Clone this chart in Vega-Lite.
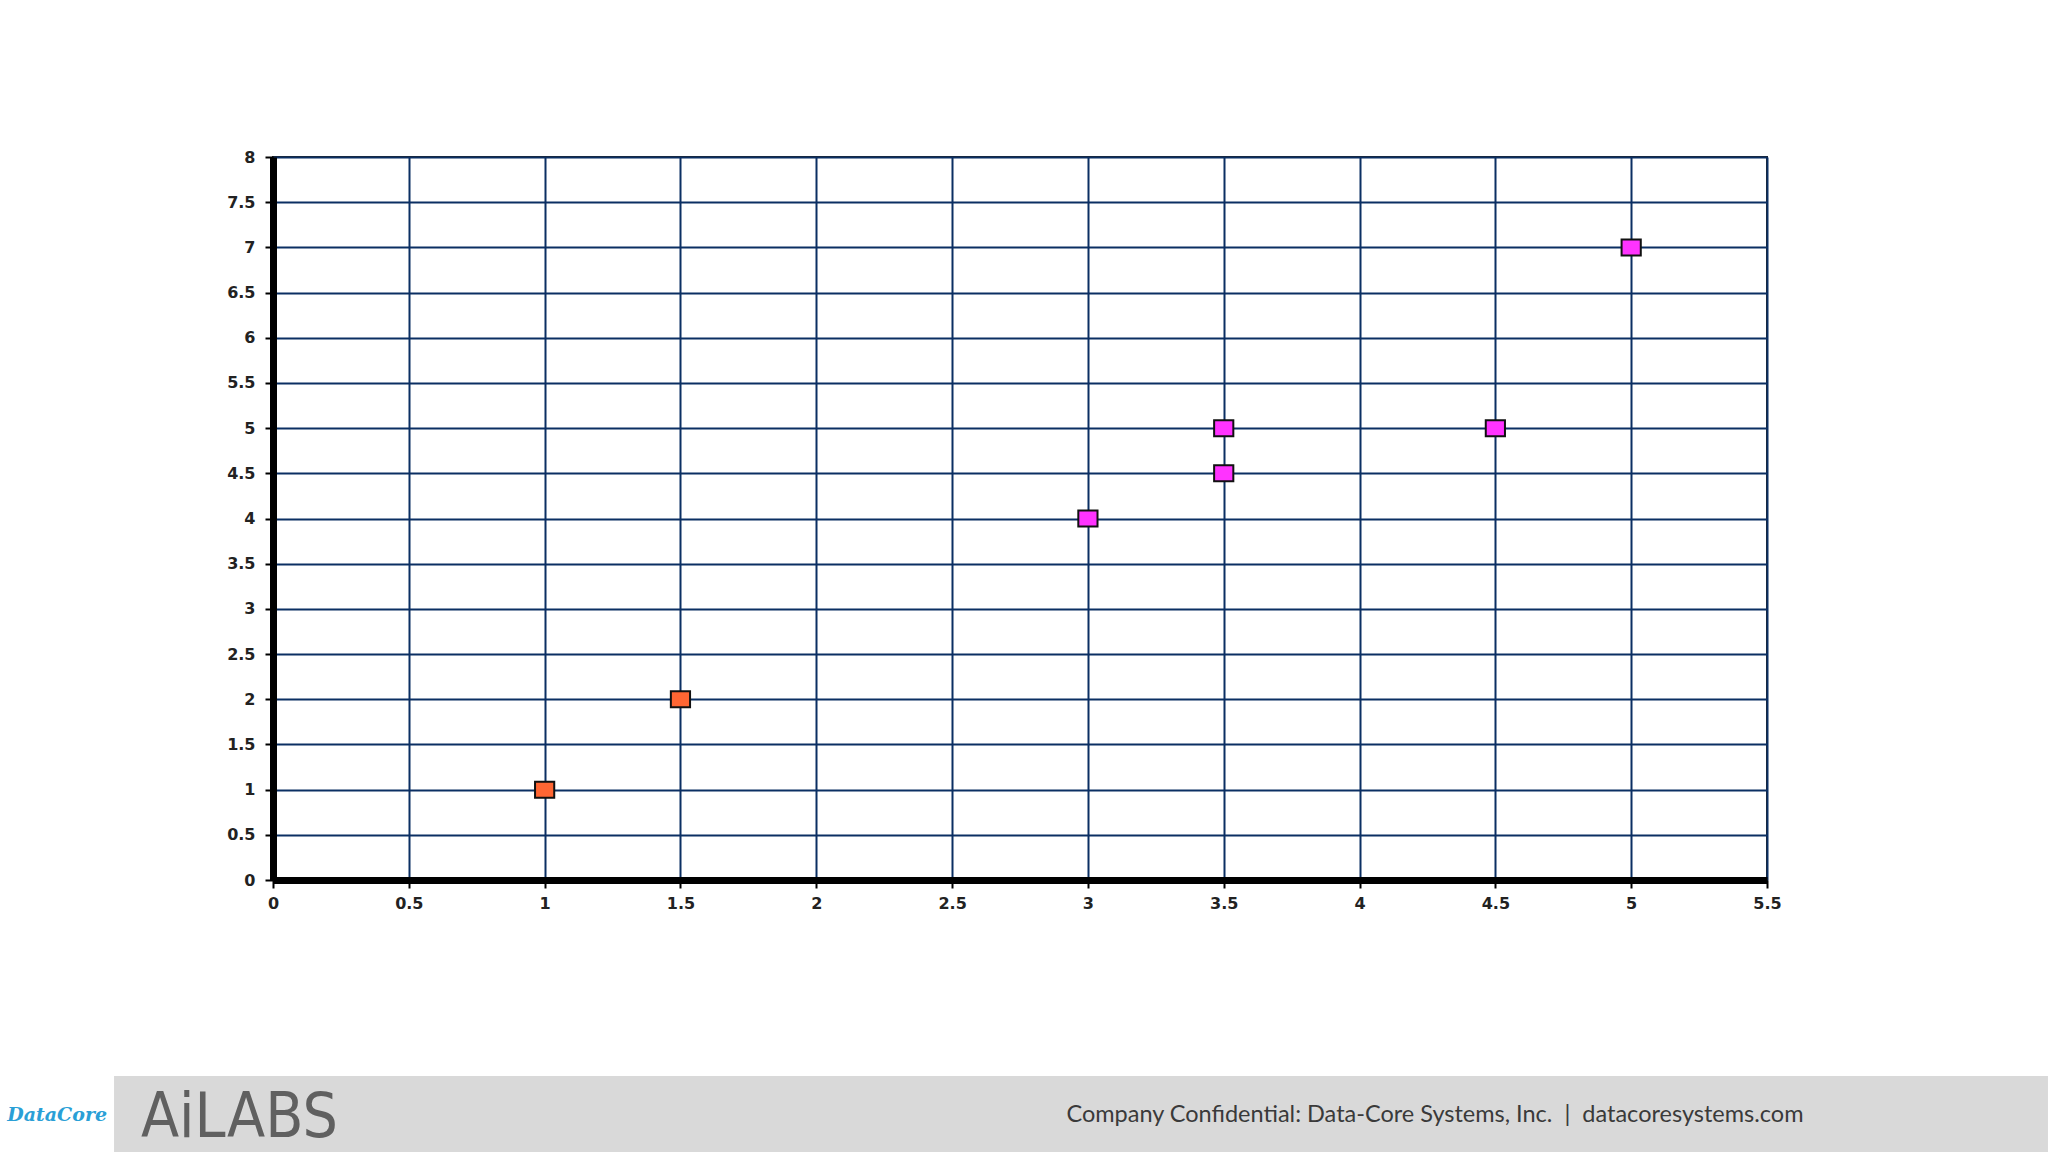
{
  "$schema": "https://vega.github.io/schema/vega-lite/v6.json",
  "background": "white",
  "padding": {"top": 148, "left": 0, "right": 0, "bottom": 0},
  "bounds": "flush",
  "center": true,
  "spacing": 196,
  "config": {"view": {"stroke": null}},
  "vconcat": [
    {
      "width": 1494,
      "height": 723,
      "view": {"stroke": "#222222", "strokeWidth": 2},
      "data": {
        "values": [
          {"x": 1, "y": 1, "series": "A"},
          {"x": 1.5, "y": 2, "series": "A"},
          {"x": 3, "y": 4, "series": "B"},
          {"x": 3.5, "y": 4.5, "series": "B"},
          {"x": 3.5, "y": 5, "series": "B"},
          {"x": 4.5, "y": 5, "series": "B"},
          {"x": 5, "y": 7, "series": "B"}
        ]
      },
      "mark": {
        "type": "point",
        "shape": "M-1.2,-1H1.2V1H-1.2Z",
        "filled": true,
        "stroke": "#111111",
        "strokeWidth": 2,
        "size": 256,
        "opacity": 1
      },
      "encoding": {
        "x": {
          "field": "x",
          "type": "quantitative",
          "scale": {"domain": [0, 5.5], "nice": false, "zero": false},
          "axis": {
            "values": [0, 0.5, 1, 1.5, 2, 2.5, 3, 3.5, 4, 4.5, 5, 5.5],
            "format": "~g",
            "title": null,
            "grid": true,
            "gridColor": "#0b2f63",
            "gridWidth": 2,
            "gridOpacity": 1,
            "domainColor": "#000000",
            "domainWidth": 7,
            "tickColor": "#000000",
            "tickWidth": 2,
            "tickSize": 8,
            "labelFont": "DejaVu Sans",
            "labelFontSize": 16,
            "labelFontWeight": "bold",
            "labelColor": "#222222",
            "labelPadding": 7,
            "labelFlush": false,
            "labelOverlap": false
          }
        },
        "y": {
          "field": "y",
          "type": "quantitative",
          "scale": {"domain": [0, 8], "nice": false, "zero": false},
          "axis": {
            "values": [0, 0.5, 1, 1.5, 2, 2.5, 3, 3.5, 4, 4.5, 5, 5.5, 6, 6.5, 7, 7.5, 8],
            "format": "~g",
            "title": null,
            "grid": true,
            "gridColor": "#0b2f63",
            "gridWidth": 2,
            "gridOpacity": 1,
            "domainColor": "#000000",
            "domainWidth": 7,
            "tickColor": "#000000",
            "tickWidth": 2,
            "tickSize": 8,
            "labelFont": "DejaVu Sans",
            "labelFontSize": 16,
            "labelFontWeight": "bold",
            "labelColor": "#222222",
            "labelPadding": 10,
            "labelFlush": false,
            "labelOverlap": false
          }
        },
        "fill": {
          "field": "series",
          "type": "nominal",
          "scale": {"domain": ["A", "B"], "range": ["#ff6633", "#ff33ff"]},
          "legend": null
        }
      }
    },
    {
      "width": 2040,
      "height": 77,
      "view": {"fill": "#d9d9d9", "stroke": null},
      "data": {"values": [{"label": "Company Confidential: Data-Core Systems, Inc.\u00a0\u00a0|\u00a0\u00a0datacoresystems.com", "logo": "AiLABS", "brand": "DataCore"}]},
      "layer": [
        {
          "mark": {"type": "rect", "fill": "#d9d9d9", "clip": false},
          "encoding": {
            "x": {"datum": 0.9, "type": "quantitative", "scale": {"domain": [0, 1]}, "axis": null},
            "x2": {"datum": 1.0039}
          }
        },
        {
          "mark": {"type": "rect", "fill": "#ffffff"},
          "encoding": {
            "x": {"datum": 0, "type": "quantitative"},
            "x2": {"datum": 0.0559}
          }
        },
        {
          "mark": {"type": "text", "font": "DejaVu Serif", "fontStyle": "italic", "fontWeight": "bold", "fontSize": 19, "color": "#2a9fd6", "align": "center", "baseline": "middle"},
          "encoding": {
            "x": {"datum": 0.028, "type": "quantitative"},
            "text": {"field": "brand"}
          }
        },
        {
          "mark": {"type": "text", "font": "DejaVu Sans Condensed", "fontSize": 62, "color": "#606060", "align": "left", "baseline": "middle", "dy": 3},
          "encoding": {
            "x": {"datum": 0.0691, "type": "quantitative"},
            "text": {"field": "logo"}
          }
        },
        {
          "mark": {"type": "text", "font": "Lato", "fontSize": 23.5, "color": "#3a3a3a", "align": "center", "baseline": "middle"},
          "encoding": {
            "x": {"datum": 0.7034, "type": "quantitative"},
            "text": {"field": "label"}
          }
        }
      ]
    }
  ]
}
